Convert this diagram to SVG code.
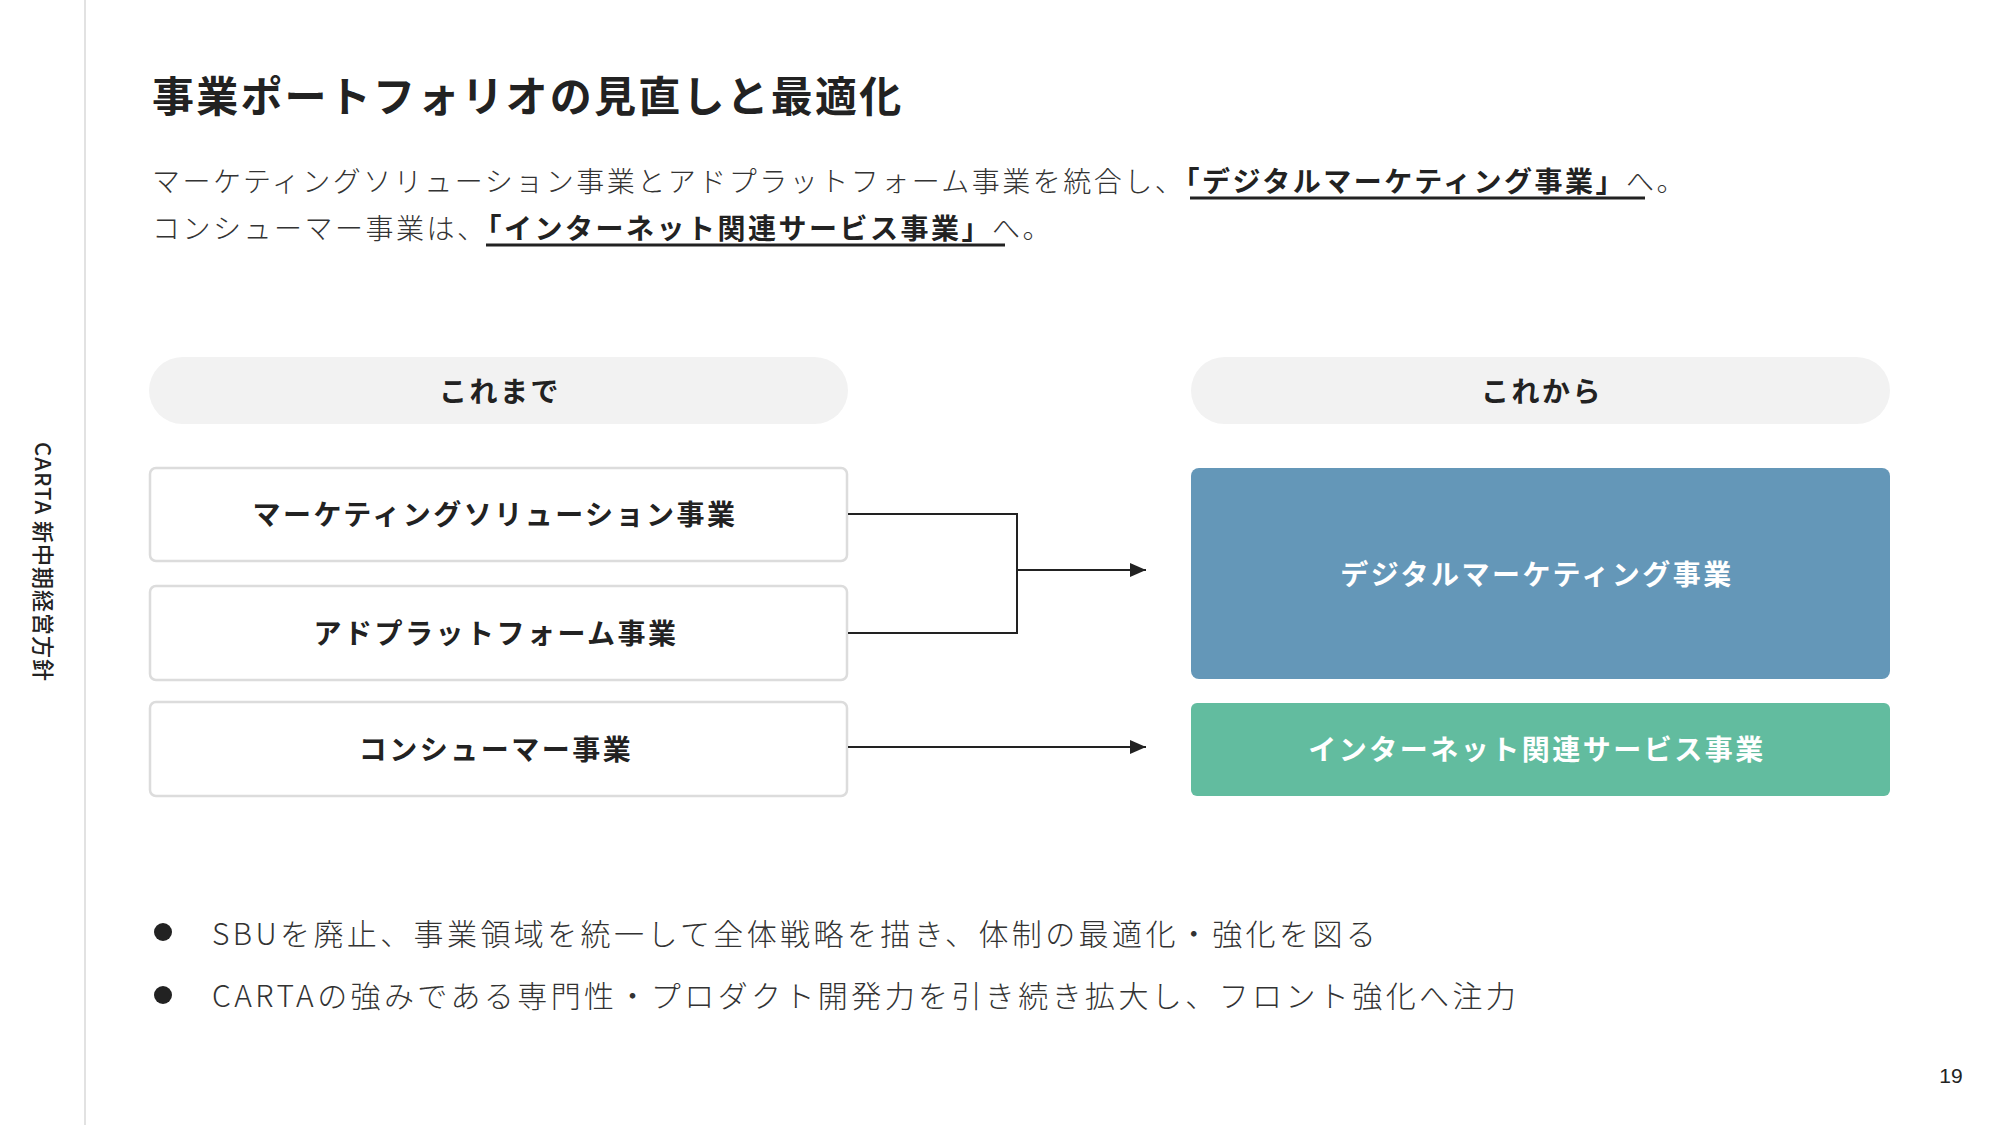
<svg xmlns="http://www.w3.org/2000/svg" width="2000" height="1125" viewBox="0 0 2000 1125">
<defs>
<style>
.jp{font-family:"Noto Sans CJK JP","Noto Sans",sans-serif}
.title{font-size:42px;font-weight:700;fill:#222;letter-spacing:2.2px}
.sub{font-size:28px;font-weight:300;fill:#333;letter-spacing:2.5px}
.em{font-weight:700;fill:#222}
.ul{stroke:#222;stroke-width:3}
.pill{fill:#f2f2f2}
.pillt{font-size:28px;font-weight:700;fill:#222;letter-spacing:2.5px;text-anchor:middle}
.box{fill:#fff;stroke:#dcdcdc;stroke-width:2.5}
.boxt{font-size:28px;font-weight:700;fill:#222;letter-spacing:2.5px;text-anchor:middle}
.newt{font-size:28px;font-weight:700;fill:#fff;letter-spacing:2.5px;text-anchor:middle}
.conn{fill:none;stroke:#222;stroke-width:2}
.bul{font-size:30px;font-weight:300;fill:#333;letter-spacing:3.4px}
</style>
<marker id="arr" markerUnits="userSpaceOnUse" markerWidth="16" markerHeight="14" refX="16" refY="7" orient="auto">
<path d="M0,0 L16,7 L0,14 z" fill="#222"/>
</marker>
</defs>
<rect width="2000" height="1125" fill="#fff"/>
<line x1="85" y1="0" x2="85" y2="1125" stroke="#e2e2e2" stroke-width="2"/>
<text class="jp" transform="translate(43,562) rotate(90)" x="0" y="8" font-size="22" font-weight="500" fill="#222" text-anchor="middle" letter-spacing="1">CARTA 新中期経営方針</text>
<text x="1951" y="1083" font-family="Liberation Sans, Arial, sans-serif" font-size="21" fill="#222" text-anchor="middle">19</text>

<text class="jp title" x="152" y="112">事業ポートフォリオの見直しと最適化</text>
<text class="jp sub" x="152" y="192">マーケティングソリューション事業とアドプラットフォーム事業を統合し、<tspan class="em">「デジタルマーケティング事業」</tspan>へ。</text>
<line class="ul" x1="1190" y1="198" x2="1645" y2="198"/>
<text class="jp sub" x="152" y="239">コンシューマー事業は、<tspan class="em">「インターネット関連サービス事業」</tspan>へ。</text>
<line class="ul" x1="486" y1="245" x2="1005" y2="245"/>

<g id="header-before">
<rect class="pill" x="149" y="357" width="699" height="67" rx="33.5"/>
<text class="jp pillt" x="500" y="402">これまで</text>
</g>
<g id="header-after">
<rect class="pill" x="1191" y="357" width="699" height="67" rx="33.5"/>
<text class="jp pillt" x="1542" y="402">これから</text>
</g>

<g id="node-marketing-solution">
<rect class="box" x="150" y="468" width="697" height="93" rx="6"/>
<text class="jp boxt" x="495" y="525" letter-spacing="0.6">マーケティングソリューション事業</text>
</g>
<g id="node-ad-platform">
<rect class="box" x="150" y="586" width="697" height="94" rx="6"/>
<text class="jp boxt" x="496" y="644">アドプラットフォーム事業</text>
</g>
<g id="node-consumer">
<rect class="box" x="150" y="702" width="697" height="94" rx="6"/>
<text class="jp boxt" x="496" y="760">コンシューマー事業</text>
</g>

<g id="node-digital-marketing">
<rect x="1191" y="468" width="699" height="211" rx="8" fill="#6497b8"/>
<text class="jp newt" x="1537" y="585">デジタルマーケティング事業</text>
</g>
<g id="node-internet-services">
<rect x="1191" y="703" width="699" height="93" rx="6" fill="#62bc9f"/>
<text class="jp newt" x="1537" y="760">インターネット関連サービス事業</text>
</g>

<g id="connectors">
<path class="conn" d="M848,514 H1017 V633 H848"/>
<line class="conn" x1="1017" y1="570" x2="1146" y2="570" marker-end="url(#arr)"/>
<line class="conn" x1="848" y1="747" x2="1146" y2="747" marker-end="url(#arr)"/>
</g>

<g id="bullets">
<circle cx="163" cy="932" r="9" fill="#222"/>
<text class="jp bul" x="212" y="945">SBUを廃止、事業領域を統一して全体戦略を描き、体制の最適化・強化を図る</text>
<circle cx="163" cy="995" r="9" fill="#222"/>
<text class="jp bul" x="212" y="1007">CARTAの強みである専門性・プロダクト開発力を引き続き拡大し、フロント強化へ注力</text>
</g>
</svg>
